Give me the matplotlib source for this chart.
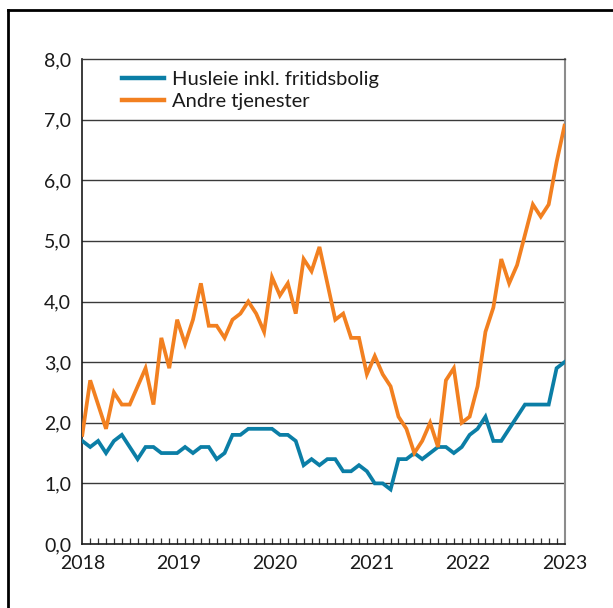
import numpy as np
import matplotlib
matplotlib.use("Agg")
import matplotlib.pyplot as plt
from matplotlib.lines import Line2D
from matplotlib.ticker import FixedLocator, FuncFormatter

plt.rcParams['font.family'] = ['Lato', 'DejaVu Sans']

# Monthly series, Jan 2018 - Feb 2023
husleie = [1.7, 1.6, 1.7, 1.5, 1.7, 1.8, 1.6, 1.4, 1.6, 1.6, 1.5, 1.5,
           1.5, 1.6, 1.5, 1.6, 1.6, 1.4, 1.5, 1.8, 1.8, 1.9, 1.9, 1.9,
           1.9, 1.8, 1.8, 1.7, 1.3, 1.4, 1.3, 1.4, 1.4, 1.2, 1.2, 1.3,
           1.2, 1.0, 1.0, 0.9, 1.4, 1.4, 1.5, 1.4, 1.5, 1.6, 1.6, 1.5,
           1.6, 1.8, 1.9, 2.1, 1.7, 1.7, 1.9, 2.1, 2.3, 2.3, 2.3, 2.3,
           2.9, 3.0]
andre = [1.8, 2.7, 2.3, 1.9, 2.5, 2.3, 2.3, 2.6, 2.9, 2.3, 3.4, 2.9,
         3.7, 3.3, 3.7, 4.3, 3.6, 3.6, 3.4, 3.7, 3.8, 4.0, 3.8, 3.5,
         4.4, 4.1, 4.3, 3.8, 4.7, 4.5, 4.9, 4.3, 3.7, 3.8, 3.4, 3.4,
         2.8, 3.1, 2.8, 2.6, 2.1, 1.9, 1.5, 1.7, 2.0, 1.6, 2.7, 2.9,
         2.0, 2.1, 2.6, 3.5, 3.9, 4.7, 4.3, 4.6, 5.1, 5.6, 5.4, 5.6,
         6.3, 6.9]
year_labels = ['2018', '2019', '2020', '2021', '2022', '2023']
series_names = ['Husleie inkl. fritidsbolig', 'Andre tjenester']

W, H = 613, 608
fig = plt.figure(figsize=(W / 100, H / 100), dpi=100)
ax = fig.add_axes([82.3 / W, 1 - 544 / H, (564.5 - 82.3) / W, (544 - 59) / H])

n = len(husleie)
x = np.arange(n)
blue = '#0b7ea6'
orange = '#f28020'
ax.plot(x, husleie, color=blue, lw=2.7, solid_joinstyle='miter', label=series_names[0], zorder=3)
ax.plot(x, andre, color=orange, lw=2.7, solid_joinstyle='miter', label=series_names[1], zorder=3)

ax.set_xlim(0, n - 1)
ax.set_ylim(0, 8)

ax.set_yticks(np.arange(0, 9, 1))
ax.yaxis.set_major_formatter(FuncFormatter(lambda v, p: f"{v:.1f}".replace('.', ',')))
ax.tick_params(axis='y', length=0, pad=8, labelsize=14, labelcolor='#1a1a1a')
for yv in range(1, 8):
    ax.axhline(yv, color='#3a3a3a', lw=1.0, zorder=1)

ax.set_xticks(np.linspace(0, n - 1, len(year_labels)))
ax.set_xticklabels(year_labels)
ax.xaxis.set_minor_locator(FixedLocator(np.arange(1, n - 1)))
ax.tick_params(axis='x', which='major', length=0, pad=8, labelsize=14, labelcolor='#1a1a1a')
ax.tick_params(axis='x', which='minor', direction='in', length=4, width=0.9, color='#333333')

for s in ['left', 'bottom']:
    ax.spines[s].set_color('#1a1a1a')
    ax.spines[s].set_linewidth(1.2)
ax.spines['top'].set_color('#3a3a3a')
ax.spines['top'].set_linewidth(1.0)
ax.spines['right'].set_color('#8c8c8c')
ax.spines['right'].set_linewidth(1.5)

leg = ax.legend(loc='upper left', bbox_to_anchor=(0.057, 1.0), frameon=False,
                fontsize=14.5, handlelength=2.1, handletextpad=0.4, labelspacing=0.25,
                borderaxespad=0.2)
for t in leg.get_texts():
    t.set_color('#1a1a1a')
for h in leg.get_lines():
    h.set_linewidth(3.2)

# outer frame
fig.add_artist(Line2D([8 / W, 8 / W], [0, 1 - 10 / H], color='black', lw=2.0, transform=fig.transFigure))
fig.add_artist(Line2D([8 / W, 1], [1 - 10 / H, 1 - 10 / H], color='black', lw=2.0, transform=fig.transFigure))

fig.savefig('out.png', dpi=100)
